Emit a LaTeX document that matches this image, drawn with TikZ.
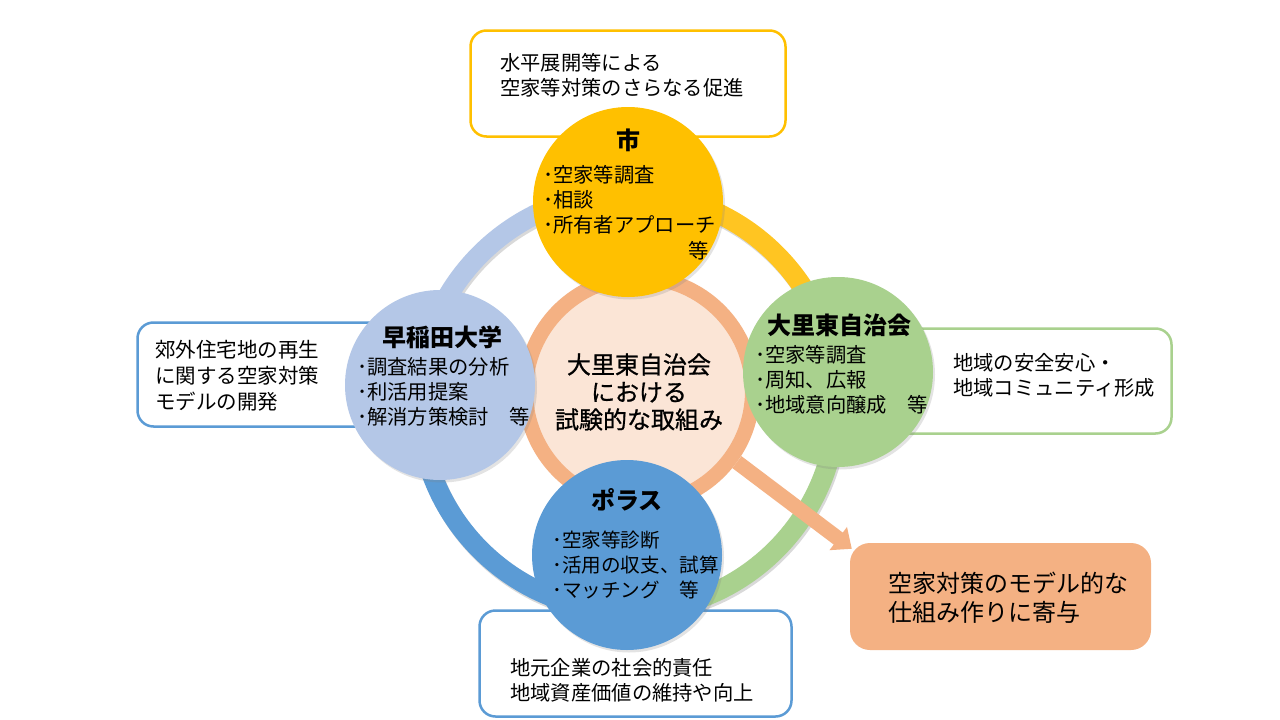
\documentclass[tikz,border=0pt]{standalone}
\usepackage{fontspec}
\setmainfont{Noto Sans CJK JP}
\newfontfamily\ctrfont[FakeBold=0.8]{Noto Sans CJK JP}
\usetikzlibrary{arrows.meta,shadows,calc}
\definecolor{cyel}{HTML}{FFC000}
\definecolor{cyelarc}{HTML}{FFC522}
\definecolor{cgrn}{HTML}{A9D18E}
\definecolor{clbl}{HTML}{B4C7E7}
\definecolor{cblu}{HTML}{5B9BD5}
\definecolor{corg}{HTML}{F4B183}
\definecolor{cpch}{HTML}{FBE5D6}
\begin{document}
\begin{tikzpicture}[x=1pt,y=-1pt,
  infobox/.style={draw, line width=2.5pt, rounded corners=16pt, fill=white, inner sep=0pt},
  actor/.style={circle, inner sep=0pt, minimum size=190pt,
    drop shadow={shadow xshift=2pt,shadow yshift=-2.5pt,opacity=0.22}},
  ttl/.style={font=\bfseries\fontsize{24}{28}\selectfont, inner sep=0pt},
  lst/.style={font=\fontsize{20.3}{25}\selectfont, align=left, inner sep=0pt, anchor=west},
  ringarc/.style={line width=20pt},
  arcshadow/.style={line width=20pt, black, opacity=0.15}
]
\useasboundingbox (0,0) rectangle (1280,720);
\fill[white] (0,0) rectangle (1280,720);

% outer boxes
\node[infobox, draw=cyel, minimum width=315pt, minimum height=106pt] (tbox) at (628,83.5) {};
\node[infobox, draw=cblu, minimum width=281pt, minimum height=104pt] (lbox) at (278,374.5) {};
\node[infobox, draw=cgrn, minimum width=310pt, minimum height=105pt] (rbox) at (1016.5,381) {};
\node[infobox, draw=cblu, minimum width=312pt, minimum height=106pt] (bbox) at (635.5,663.5) {};
\node[fill=corg, rounded corners=20pt, minimum width=301pt, minimum height=107pt, inner sep=0pt] (obox) at (1000.5,596.5) {};

% ring
\coordinate (rc) at (628,402);
\coordinate (rcs) at (629.5,404.5);
\draw[arcshadow] ([shift={(0:209)}]rcs) arc[start angle=0,end angle=-360,radius=209];
\draw[ringarc, cyelarc] ([shift={(0:209)}]rc) arc[start angle=0,end angle=-90,radius=209];
\draw[ringarc, clbl] ([shift={(-90:209)}]rc) arc[start angle=-90,end angle=-180,radius=209];
\draw[ringarc, cblu] ([shift={(180:209)}]rc) arc[start angle=180,end angle=90,radius=209];
\draw[ringarc, cgrn] ([shift={(90:209)}]rc) arc[start angle=90,end angle=0,radius=209];

% central circle
\node[circle, fill=cpch, draw=corg, line width=15pt, minimum size=227pt, inner sep=0pt] (cen) at (639,391) {};

% arrow
\draw[corg, line width=15pt, -{Triangle[width=28pt,length=17pt]}] (cen.-36) -- ($(obox.north west)+(2,6)$);

% actor circles
\node[actor, fill=cyel] (city) at (628,202) {};
\node[actor, fill=clbl] (waseda) at (440,385) {};
\node[actor, fill=cgrn] (jichi) at (838,372) {};
\node[actor, fill=cblu] (poras) at (627,555) {};

% texts in circles
\node[ttl] (t1) at (628,140) {市};
\node[lst] (l1) at (543,200) {･空家等調査\\･相談\\･所有者アプローチ};
\node[font=\fontsize{20.3}{25}\selectfont, anchor=east, inner sep=0pt] (l1b) at (709,251) {等};

\node[ttl] (t2) at (442,337) {早稲田大学};
\node[lst] (l2) at (357,392) {･調査結果の分析\\･利活用提案\\･解消方策検討　等};

\node[ttl] (t3) at (839,325) {大里東自治会};
\node[lst] (l3) at (755,380) {･空家等調査\\･周知、広報\\･地域意向醸成　等};

\node[ttl] (t4) at (627,500) {ポラス};
\node[lst, font=\fontsize{19.6}{25}\selectfont] (l4) at (552,565) {･空家等診断\\･活用の収支、試算\\･マッチング　等};

% central text
\node[font=\ctrfont\fontsize{24}{27.5}\selectfont, align=center, inner sep=0pt] (ct) at (639,392) {大里東自治会\\における\\試験的な取組み};

% box texts
\node[lst] (tt) at (500,75.5) {水平展開等による\\空家等対策のさらなる促進};
\node[lst, font=\fontsize{20.5}{26}\selectfont] (lt) at (155,376) {郊外住宅地の再生\\に関する空家対策\\モデルの開発};
\node[lst] (rt) at (953,375.5) {地域の安全安心・\\地域コミュニティ形成};
\node[lst] (bt) at (510,680.5) {地元企業の社会的責任\\地域資産価値の維持や向上};
\node[lst, font=\fontsize{24}{29}\selectfont] (ot) at (888,597.5) {空家対策のモデル的な\\仕組み作りに寄与};
\end{tikzpicture}
\end{document}
